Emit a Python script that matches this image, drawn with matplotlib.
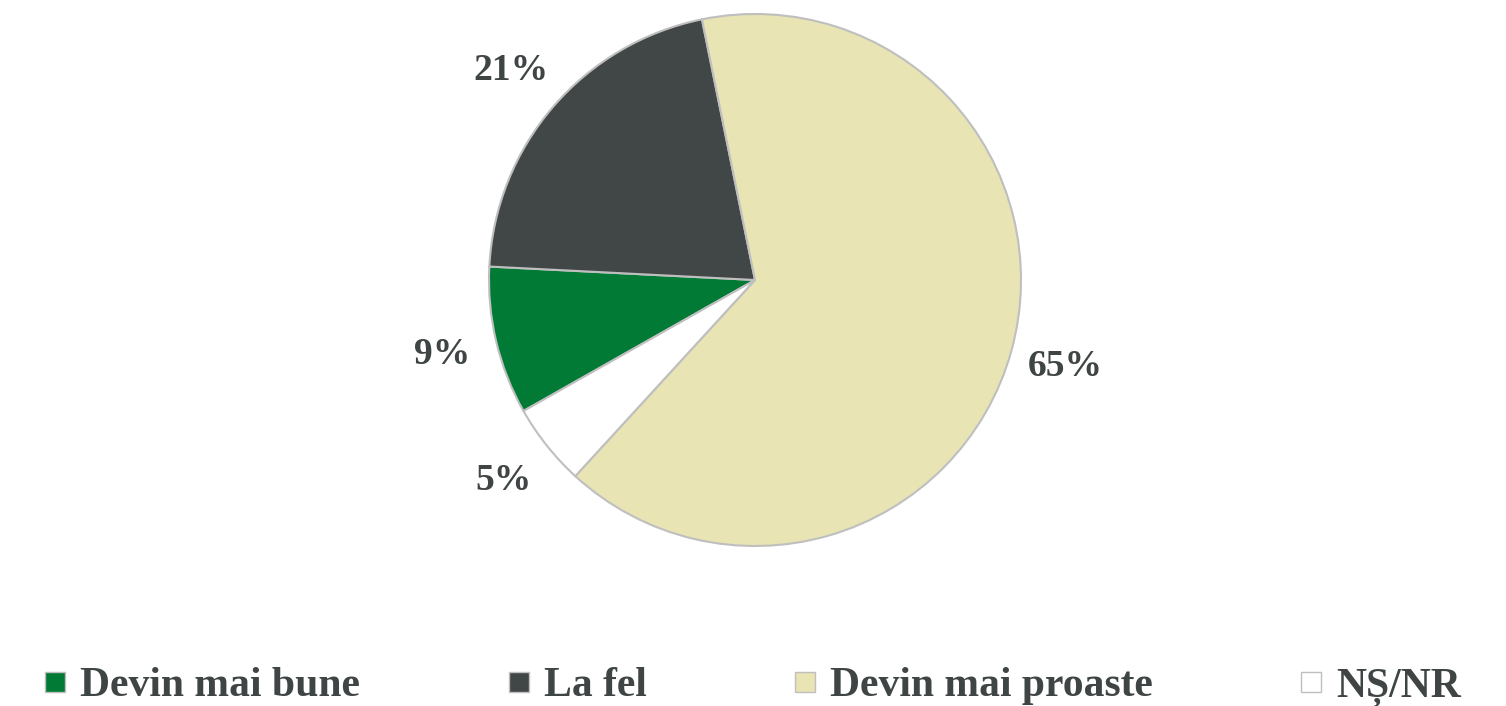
import matplotlib.pyplot as plt
from matplotlib.lines import Line2D

# Date
categorii = ['Devin mai bune', 'La fel', 'Devin mai proaste', 'NȘ/NR']
valori = [9, 21, 65, 5]
culori = ['#007A35', '#414646', '#E8E4B3', '#FFFFFF']
culoare_text = '#3F4444'

plt.rcParams['font.family'] = ['Liberation Serif', 'DejaVu Serif']

fig = plt.figure(figsize=(15.06, 7.06), dpi=100)

# Axa pentru plăcintă (centru ~ (755, 280) px, raza ~ 266 px)
ax = fig.add_axes([(755 - 266) / 1506, (706 - 546) / 706, 532 / 1506, 532 / 706])
wedges, texts, autotexts = ax.pie(
    valori, colors=culori, startangle=209.5, counterclock=False,
    autopct='%1.0f%%', pctdistance=1.21, radius=1,
    wedgeprops=dict(edgecolor='#BFBFBF', linewidth=1.5),
    textprops=dict(color=culoare_text, fontsize=27, fontweight='bold'))
ax.set_xlim(-1, 1)
ax.set_ylim(-1, 1)
ax.set_aspect('equal')
ax.axis('off')

# Legenda jos
handles = [Line2D([], [], marker='s', linestyle='none', markersize=14,
                  markerfacecolor=c, markeredgecolor='#BFBFBF', markeredgewidth=1)
           for c in culori]
fig.legend(handles, categorii, loc='center', bbox_to_anchor=(0.5, 19 / 706),
           ncol=4, frameon=False, handlelength=0.5,
           handletextpad=0.35, columnspacing=3.55,
           prop=dict(weight='bold', size=30), labelcolor=culoare_text)

fig.savefig('out.png', dpi=100)
